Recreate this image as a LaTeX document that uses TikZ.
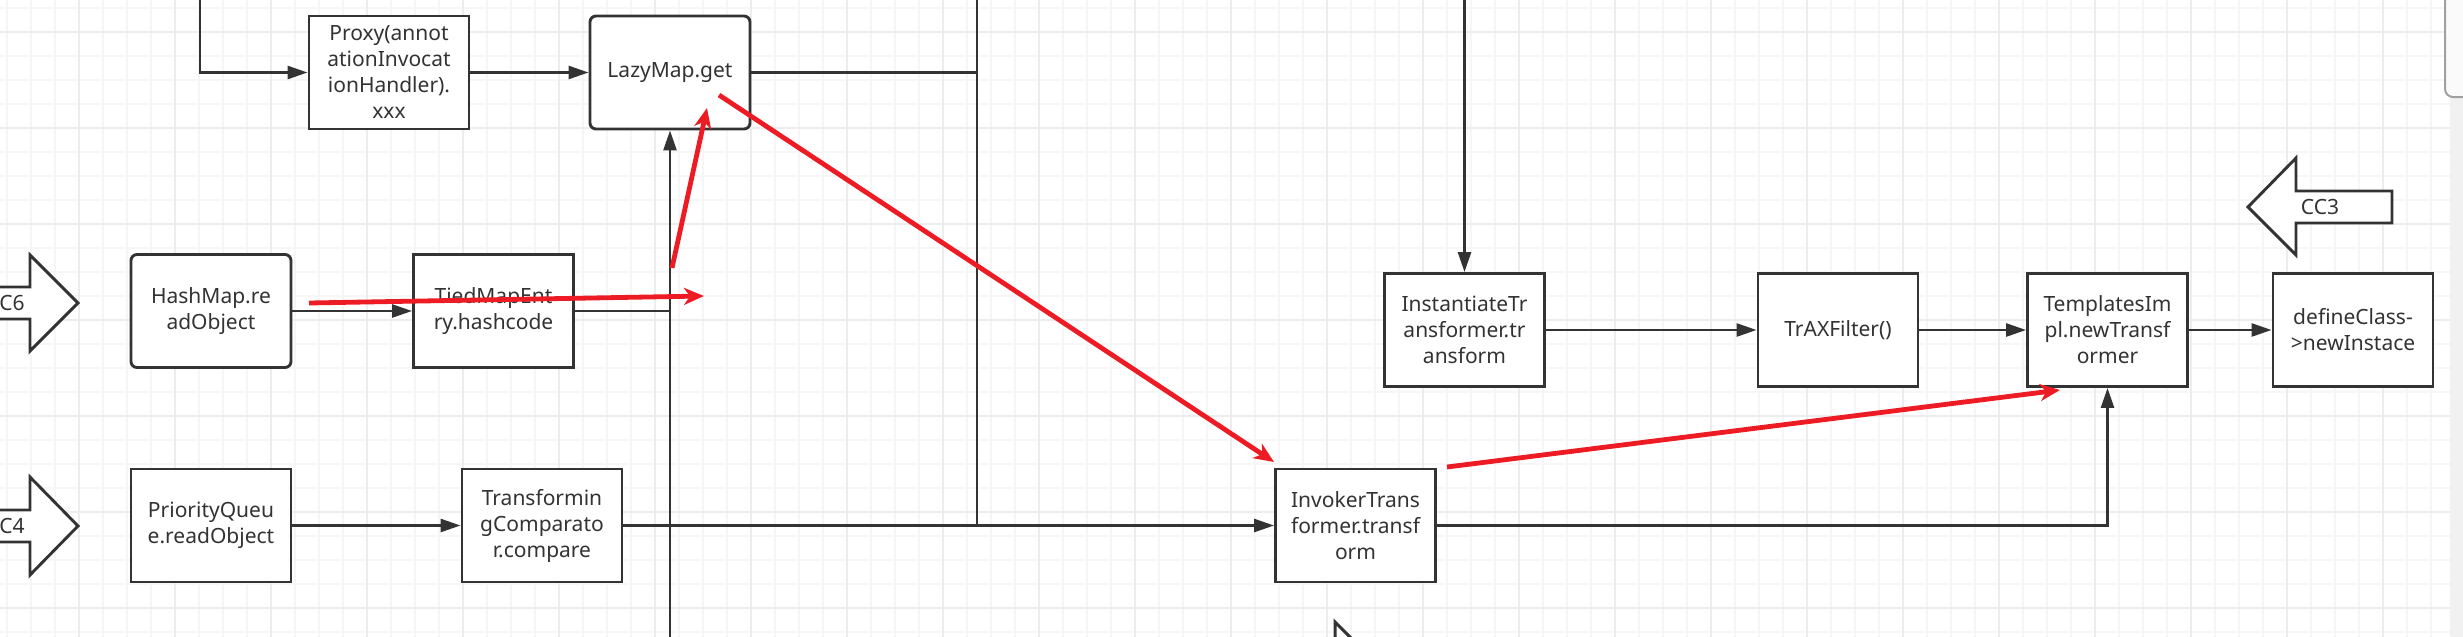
\documentclass[tikz,border=0pt]{standalone}
\usepackage{fontspec}
\setmainfont{Noto Sans}
\usetikzlibrary{%
  arrows.meta,
  positioning,
  calc
}
\definecolor{linecol}{HTML}{333333}
\definecolor{textcol}{HTML}{333333}
\definecolor{redcol}{HTML}{ED1C24}
\definecolor{gridminor}{HTML}{F6F6F6}
\definecolor{gridmajor}{HTML}{EDEDED}
\definecolor{scrolltrack}{HTML}{F1F1F1}
\definecolor{scrollthumb}{HTML}{FAFAFA}
\definecolor{scrolledge}{HTML}{A0A0A0}
\newcommand{\boxfont}{\fontsize{10.5pt}{13pt}\selectfont}
\tikzset{
  flowbox/.style={
    draw=linecol, line width=1.45pt, fill=white,
    minimum width=80pt, minimum height=56.5pt,
    inner sep=0pt, align=center,
    font=\boxfont, text=textcol,
  },
  roundbox/.style={flowbox, rounded corners=3pt},
  flowline/.style={draw=linecol, line width=1.3pt},
  flowarrow/.style={flowline, -{Triangle[length=10pt, width=6.5pt]}},
  redarrow/.style={draw=redcol, line width=2.4pt,
    -{Stealth[length=10pt, width=8.5pt, inset=3pt]}},
  blockarrow/.style={draw=linecol, line width=1.45pt, fill=white},
  blocklabel/.style={font=\boxfont, text=textcol, inner sep=0pt},
}
\begin{document}
\begin{tikzpicture}[x=0.5pt, y=-0.5pt]
    \useasboundingbox (0,0) rectangle (2463,637);

    % grid
    \foreach \gx in {7,31,...,2450}
      \draw [gridminor, line width=0.8pt] (\gx,0) -- (\gx,637);
    \foreach \gy in {8,32,...,637}
      \draw [gridminor, line width=0.8pt] (0,\gy) -- (2450,\gy);
    \foreach \gx in {79,175,...,2450}
      \draw [gridmajor, line width=1pt] (\gx,0) -- (\gx,637);
    \foreach \gy in {32,128,...,637}
      \draw [gridmajor, line width=1pt] (0,\gy) -- (2450,\gy);

    % scrollbar
    \fill [scrolltrack] (2450,0) rectangle (2463,637);
    \draw [scrolledge, fill=scrollthumb, line width=1pt, rounded corners=4pt]
          (2445,-10) rectangle (2475,97);

    % boxes
    \node [flowbox]  (proxy)       at ( 389.0, 72.5) {Proxy(annot\\ationInvocat\\ionHandler).\\xxx};
    \node [roundbox] (lazy)        at ( 670.0, 72.5) {LazyMap.get};
    \node [roundbox] (hashmap)     at ( 211.0,311.0) {HashMap.re\\adObject};
    \node [flowbox]  (tied)        at ( 493.5,311.0) {TiedMapEnt\\ry.hashcode};
    \node [flowbox]  (queue)       at ( 211.0,525.5) {PriorityQueu\\e.readObject};
    \node [flowbox]  (comparator)  at ( 542.0,525.5) {Transformin\\gComparato\\r.compare};
    \node [flowbox]  (invoker)     at (1355.5,525.5) {InvokerTrans\\former.transf\\orm};
    \node [flowbox]  (instantiate) at (1464.5,330.0) {InstantiateTr\\ansformer.tr\\ansform};
    \node [flowbox]  (trax)        at (1838.0,330.0) {TrAXFilter()};
    \node [flowbox]  (templates)   at (2107.5,330.0) {TemplatesIm\\pl.newTransf\\ormer};
    \node [flowbox]  (define)      at (2353.0,330.0) {defineClass-\\>newInstace};

    % free ends
    \coordinate (proxyfeed) at ( 200.0,  0.0);
    \coordinate (lazybus)   at ( 977.0, 72.5);
    \coordinate (bustop)    at ( 977.0,  0.0);
    \coordinate (busfoot)   at ( 977.0,525.5);
    \coordinate (tiedjoin)  at ( 670.0,311.0);
    \coordinate (lazyfeed)  at ( 670.0,637.0);
    \coordinate (instfeed)  at (1464.5,  0.0);

    % black connectors
    \draw [flowarrow] (proxyfeed) |- (proxy.west);
    \draw [flowarrow] (proxy) -- (lazy);
    \draw [flowline]  (lazy.east) -- (lazybus);
    \draw [flowline]  (bustop) -- (busfoot);
    \draw [flowarrow] (hashmap) -- (tied);
    \draw [flowline]  (tied.east) -- (tiedjoin);
    \draw [flowarrow] (lazyfeed) -- (lazy.south);
    \draw [flowarrow] (queue) -- (comparator);
    \draw [flowarrow] (comparator) -- (invoker);
    \draw [flowarrow] (instfeed) -- (instantiate);
    \draw [flowarrow] (instantiate) -- (trax);
    \draw [flowarrow] (trax) -- (templates);
    \draw [flowarrow] (templates) -- (define);
    \draw [flowarrow] (invoker) -| (templates);

    % block arrows
    \draw [blockarrow] (-20,287) -- (30,287) -- (30,255) -- (78,303)
          -- (30,351) -- (30,319) -- (-20,319) -- cycle;
    \node [blocklabel, anchor=west] (cc6label) at (-1,303) {C6};
    \draw [blockarrow] (-20,510) -- (30,510) -- (30,477) -- (78,526)
          -- (30,575) -- (30,542) -- (-20,542) -- cycle;
    \node [blocklabel, anchor=west] (cc4label) at (-1,526) {C4};
    \draw [blockarrow] (2392,191) -- (2296,191) -- (2296,158) -- (2248,207)
          -- (2296,255) -- (2296,223) -- (2392,223) -- cycle;
    \node [blocklabel] (cc3label) at (2320,207) {CC3};

    % pointer
    \draw [linecol, line width=1.5pt, fill=white, line join=miter]
          (1335,622) -- (1335,662) -- (1345,652) -- (1365,652) -- cycle;

    % red path
    \coordinate (redstart) at ( 309,303);
    \coordinate (redend)   at ( 704,296);
    \coordinate (redup)    at ( 672,268);
    \coordinate (redtop)   at ( 707,108);
    \coordinate (reddown)  at ( 719, 95);
    \coordinate (redinv)   at (1274,462);
    \coordinate (redout)   at (1447,467);
    \coordinate (redtpl)   at (2060,390);
    \draw [redarrow] (redstart) -- (redend);
    \draw [redarrow] (redup) -- (redtop);
    \draw [redarrow] (reddown) -- (redinv);
    \draw [redarrow] (redout) -- (redtpl);
  \end{tikzpicture}
\end{document}
